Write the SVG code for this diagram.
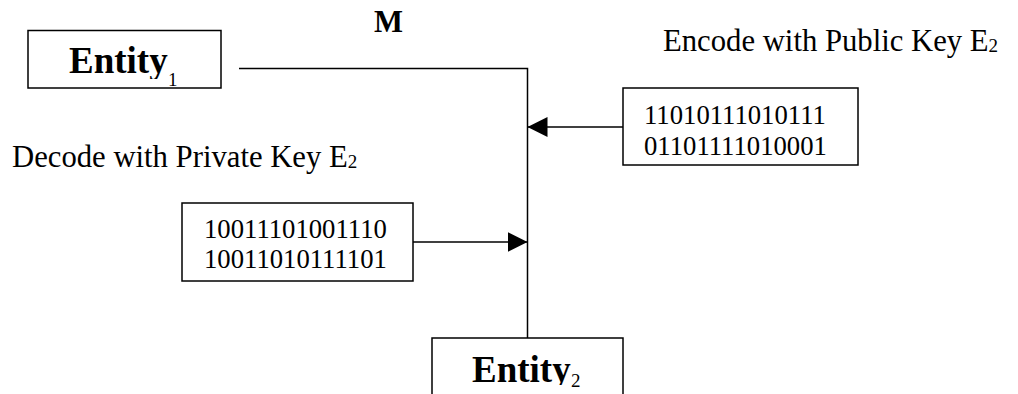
<svg xmlns="http://www.w3.org/2000/svg" width="1018" height="394" viewBox="0 0 1018 394">
  <style>
    .box { fill: #ffffff; stroke: #000000; stroke-width: 1.5; }
    .wire { fill: none; stroke: #000000; stroke-width: 1.5; }
    .serif { font-family: "Liberation Serif", "Times New Roman", serif; fill: #000000; }
    .ent { font-size: 37px; font-weight: bold; }
    .entsub { font-size: 19px; }
    .label { font-size: 30.7px; }
    .sub { font-size: 19px; }
    .bits { font-size: 26.7px; }
  </style>
  <defs>
    <marker id="head" viewBox="0 0 20 20" refX="20" refY="10" markerWidth="20" markerHeight="20" markerUnits="userSpaceOnUse" orient="auto">
      <path d="M0,0 L20,10 L0,20 Z" fill="#000000"/>
    </marker>
    <clipPath id="clipEnt1">
      <rect x="0" y="0" width="1018" height="79"/>
    </clipPath>
    <clipPath id="clipEnt2">
      <rect x="0" y="0" width="1018" height="385"/>
    </clipPath>
  </defs>

  <rect width="1018" height="394" fill="#ffffff"/>

  <!-- connectors -->
  <g id="connectors">
    <polyline class="wire" points="239,68.5 527.5,68.5 527.5,338"/>
    <line class="wire" x1="623" y1="127" x2="527.5" y2="127" marker-end="url(#head)"/>
    <line class="wire" x1="413" y1="242" x2="527.5" y2="242" marker-end="url(#head)"/>
  </g>

  <!-- message label -->
  <text class="serif label" x="374" y="32" font-weight="bold">M</text>

  <!-- sender -->
  <g id="entity1">
    <rect class="box" x="28" y="30.5" width="193" height="57.5"/>
    <text class="serif ent" x="69" y="73" clip-path="url(#clipEnt1)">Entity</text>
    <text class="serif entsub" x="168" y="86">1</text>
  </g>

  <!-- public key -->
  <g id="public-key">
    <text class="serif label" x="663" y="51">Encode with Public Key E<tspan class="sub" dy="1">2</tspan></text>
    <rect class="box" x="623" y="88" width="235" height="77"/>
    <text class="serif bits" x="644" y="124">11010111010111</text>
    <text class="serif bits" x="644" y="155">01101111010001</text>
  </g>

  <!-- private key -->
  <g id="private-key">
    <text class="serif label" x="12" y="167">Decode with Private Key E<tspan class="sub" dy="1">2</tspan></text>
    <rect class="box" x="182" y="203" width="231" height="78"/>
    <text class="serif bits" x="204" y="238">10011101001110</text>
    <text class="serif bits" x="204" y="268">10011010111101</text>
  </g>

  <!-- receiver -->
  <g id="entity2">
    <rect class="box" x="432" y="338" width="191" height="70"/>
    <text class="serif ent" x="472" y="382" clip-path="url(#clipEnt2)">Entity</text>
    <text class="serif entsub" x="571" y="387">2</text>
  </g>
</svg>
